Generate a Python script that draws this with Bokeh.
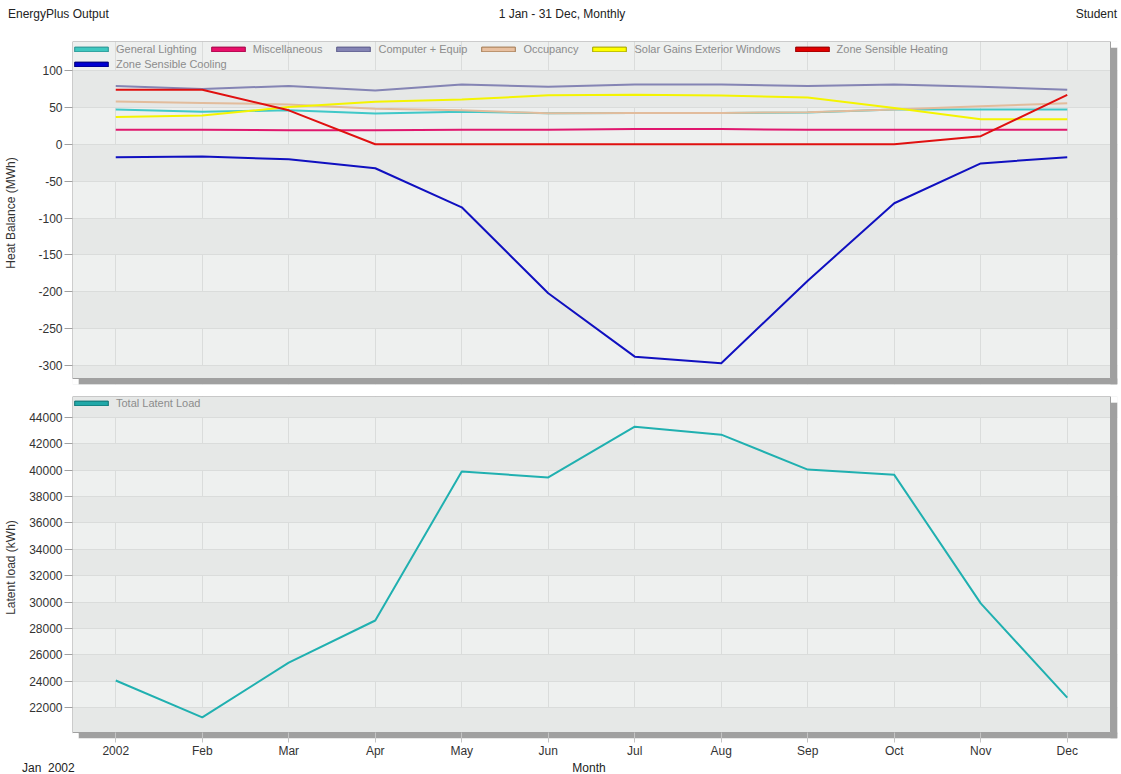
import numpy as np
from bokeh.plotting import figure
from bokeh.models import Range1d, FixedTicker, Legend, LegendItem, Div
from bokeh.layouts import column
from bokeh.embed import file_html
from bokeh.resources import INLINE

# ---------------- data ----------------
month_labels = ["2002", "Feb", "Mar", "Apr", "May", "Jun", "Jul", "Aug", "Sep", "Oct", "Nov", "Dec"]
month_idx = list(range(12))

general_lighting = [47, 44, 46, 41.6, 44, 42, 42.5, 42.5, 43, 47, 47, 47]
miscellaneous = [19.5, 19.5, 19, 19, 19.5, 19.5, 20.5, 20.5, 19.5, 19.5, 19.5, 19.5]
computer_equip = [79, 75, 79, 73, 81, 78, 81, 81, 79, 81, 78, 74]
occupancy = [58, 56, 54, 48, 46, 42, 42.5, 42.5, 43.5, 47, 51.5, 55.5]
solar_gains = [37, 39, 50.5, 57.5, 60.5, 66.5, 67, 66, 63.5, 49, 34, 34]
zone_heating = [74, 74, 46, 0, 0, 0, 0, 0, 0, 0, 11, 67]
zone_cooling = [-17.5, -16.5, -20.5, -32.5, -85.5, -202, -288, -297, -185, -80, -26, -17.5]
total_latent = [24050, 21250, 25400, 28600, 39900, 39450, 43300, 42700, 40050, 39650, 29900, 22750]

top_ticks = list(range(-300, 101, 50))
top_grid = list(range(-350, 151, 50))
bottom_ticks = list(range(22000, 44001, 2000))
bottom_grid = list(range(20000, 46001, 2000))

series_top = [
    ("General Lighting", general_lighting, "#40C8C8", "#40C8C0", "#2A9090"),
    ("Miscellaneous", miscellaneous, "#E0186E", "#E8106A", "#A00848"),
    ("Computer + Equip", computer_equip, "#8484B4", "#8484B4", "#5A5A88"),
    ("Occupancy", occupancy, "#E2BC9C", "#E8C0A0", "#A07850"),
    ("Solar Gains Exterior Windows", solar_gains, "#F4F400", "#FFFF00", "#A0A000"),
    ("Zone Sensible Heating", zone_heating, "#E01010", "#E00000", "#900000"),
    ("Zone Sensible Cooling", zone_cooling, "#1010C0", "#0000D0", "#000070"),
]

header_texts = ["EnergyPlus Output", "1 Jan - 31 Dec, Monthly", "Student"]
footer_texts = ["Jan  2002", "Month"]

FONT = "Liberation Sans"
W = 1121
PLOT_W = 1038          # plot area width (px)
SH = 6                 # shadow offset (px)
X0, X1 = -0.5, 11.5
KX = (X1 - X0) / PLOT_W
X1E = X1 + (SH + 1) * KX


def make_fig(y0, y1, ph, top, bottom, yticks, ygrid, ylabel, standoff):
    """y0/y1: data limits of the plot area, ph: plot-area height in px.
    The frame is extended by the shadow size on the right and bottom."""
    ky = (y1 - y0) / ph
    y0e = y0 - SH * ky
    p = figure(frame_width=PLOT_W + SH + 1, frame_height=ph + SH,
               x_range=Range1d(X0, X1E), y_range=Range1d(y0e, y1),
               output_backend="svg", toolbar_location=None,
               min_border_left=72, min_border_right=W - 72 - (PLOT_W + SH + 1),
               min_border_top=top, min_border_bottom=bottom)
    p.background_fill_color = "white"
    p.border_fill_color = "white"
    p.outline_line_color = None

    p.xgrid.ticker = FixedTicker(ticks=month_idx)
    p.xgrid.grid_line_color = "#DADCDB"
    p.ygrid.ticker = FixedTicker(ticks=ygrid)
    p.ygrid.grid_line_color = "#DADCDB"
    p.ygrid.band_fill_color = "#E6E8E7"
    p.ygrid.band_fill_alpha = 1

    ya = p.yaxis[0]
    ya.ticker = FixedTicker(ticks=yticks)
    ya.major_label_overrides = {t: str(t) for t in yticks}
    ya.axis_line_color = None
    ya.major_tick_line_color = "#A0A0A0"
    ya.major_tick_out = 8
    ya.major_tick_in = 0
    ya.minor_tick_line_color = None
    ya.major_label_standoff = 2
    ya.major_label_text_font = FONT
    ya.major_label_text_font_size = "12px"
    ya.major_label_text_color = "#333333"
    ya.axis_label = ylabel
    ya.axis_label_text_font = FONT
    ya.axis_label_text_font_size = "12px"
    ya.axis_label_text_font_style = "normal"
    ya.axis_label_text_color = "#333333"
    ya.axis_label_standoff = standoff

    # plot-area background (below the grid)
    bg = p.quad(left=[X0], right=[X1], bottom=[y0], top=[y1], fill_color="#EEF0EF", line_color=None)
    bg.level = "image"
    # drop shadow and white corners
    p.quad(left=[X1, X0 + SH * KX], right=[X1E, X1E], top=[y1 - SH * ky, y0], bottom=[y0e, y0e],
           fill_color="#A0A0A0", line_color=None)
    p.quad(left=[X1, X0], right=[X1E, X0 + SH * KX], top=[y1, y0], bottom=[y1 - SH * ky, y0e],
           fill_color="white", line_color=None)
    return p, (y0, y1)


def add_outline(p, y0, y1):
    p.quad(left=[X0], right=[X1], bottom=[y0], top=[y1], fill_color=None,
           line_color="#A0A0A0", line_width=1)


def legend_items(p, specs):
    items = []
    for label, fill, line in specs:
        r = p.quad(left=np.array([np.nan]), right=np.array([np.nan]),
                   top=np.array([np.nan]), bottom=np.array([np.nan]),
                   fill_color=fill, line_color=line, line_width=1)
        items.append(LegendItem(label=label, renderers=[r]))
    return items


def make_legend(items, loc):
    return Legend(items=items, orientation="horizontal", location=loc,
                  glyph_width=42, glyph_height=6, label_height=14, label_standoff=4,
                  spacing=10, padding=0, margin=0,
                  label_text_font=FONT, label_text_font_size="11px", label_text_color="#8C8C8C",
                  background_fill_alpha=0, border_line_color=None)


def text_div(h, spans):
    inner = "".join(
        f'<span style="position:absolute;top:{top}px;{pos};white-space:pre;">{txt}</span>'
        for txt, top, pos in spans)
    html = (f'<div style="position:relative;width:{W}px;height:{h}px;'
            f"font-family:'Liberation Sans';font-size:12px;line-height:14px;color:#222222;\">"
            f"{inner}</div>")
    return Div(text=html, width=W, height=h, margin=0)


# ---------------- header ----------------
header = text_div(33, [(header_texts[0], 7, "left:8px"),
                       (header_texts[1], 7, "left:562px;transform:translateX(-50%)"),
                       (header_texts[2], 7, "right:4px")])

# ---------------- top figure ----------------
p1, (t0, t1) = make_fig(-317.6, 139.3, 337, 8, 6, top_ticks, top_grid, "Heat Balance (MWh)", 17)
p1.xaxis.visible = False

for name, vals, color, _, _ in series_top:
    p1.line(x=month_idx, y=vals, line_color=color, line_width=2)
add_outline(p1, t0, t1)

items_top = legend_items(p1, [(s[0], s[3], s[4]) for s in series_top])
p1.add_layout(make_legend(items_top[:6], (-2, 328)))
p1.add_layout(make_legend(items_top[6:], (-2, 313)))

# ---------------- bottom figure ----------------
p2, (b0, b1) = make_fig(20103, 45593, 336, 6, 20, bottom_ticks, bottom_grid, "Latent load (kWh)", 8)
xa = p2.xaxis[0]
xa.ticker = FixedTicker(ticks=month_idx)
xa.major_label_overrides = {i: lab for i, lab in zip(month_idx, month_labels)}
xa.axis_line_color = None
xa.major_tick_line_color = "#C4C4C4"
xa.major_tick_out = 4
xa.major_tick_in = 6
xa.minor_tick_line_color = None
xa.major_label_standoff = 1
xa.major_label_text_font = FONT
xa.major_label_text_font_size = "12px"
xa.major_label_text_color = "#333333"

p2.line(x=month_idx, y=total_latent, line_color="#20B0B0", line_width=2)
add_outline(p2, b0, b1)
items_bot = legend_items(p2, [("Total Latent Load", "#20A8A8", "#107070")])
p2.add_layout(make_legend(items_bot, (-2, 328)))

# ---------------- footer ----------------
footer = text_div(16, [(footer_texts[0], 1, "left:22px"),
                       (footer_texts[1], 1, "left:589px;transform:translateX(-50%)")])

layout = column(header, p1, p2, footer, spacing=0)
open("out.html", "w").write(file_html(layout, INLINE))
